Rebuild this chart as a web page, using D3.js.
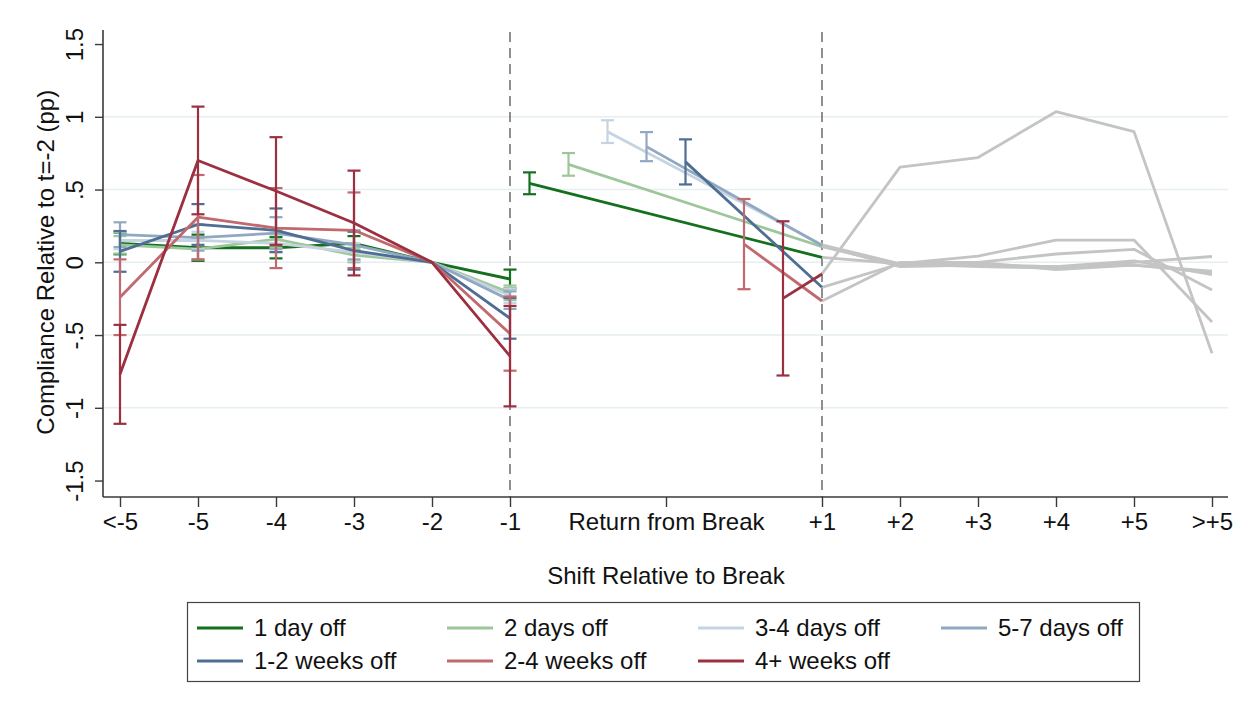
<!DOCTYPE html>
<html>
<head>
<meta charset="utf-8">
<script src="https://cdn.jsdelivr.net/npm/d3@7"></script>
<style>
  html, body { margin: 0; padding: 0; background: #fff; }
  svg { display: block; font-family: "Liberation Sans", Arial, Helvetica, sans-serif; }
</style>
</head>
<body>
<script>
// Axis categories and their positions on the shift axis
const categories = ["<-5", "-5", "-4", "-3", "-2", "-1", "Return from Break", "+1", "+2", "+3", "+4", "+5", ">+5"];
const categoryPos = [0, 1, 2, 3, 4, 5, 7, 9, 10, 11, 12, 13, 14];
const yTicks = [-1.5, -1, -0.5, 0, 0.5, 1, 1.5];
const yTickLabels = ["-1.5", "-1", "-.5", "0", ".5", "1", "1.5"];

// Break-length groups
const seriesNames = ["1 day off", "2 days off", "3-4 days off", "5-7 days off", "1-2 weeks off", "2-4 weeks off", "4+ weeks off"];
const seriesColors = ["#13701c", "#9dc79b", "#c6d3e0", "#91a8c1", "#4e6e93", "#c0696e", "#9c3040"];

// Shifts before the break: <-5, -5, -4, -3, -2, -1 (relative to t=-2)
const preMean = [
  [0.13, 0.10, 0.10, 0.13, 0, -0.115],
  [0.12, 0.09, 0.16, 0.05, 0, -0.21],
  [0.15, 0.15, 0.13, 0.07, 0, -0.23],
  [0.19, 0.17, 0.20, 0.12, 0, -0.26],
  [0.075, 0.26, 0.22, 0.08, 0, -0.385],
  [-0.24, 0.31, 0.235, 0.22, 0, -0.49],
  [-0.77, 0.70, 0.49, 0.27, 0, -0.645]
];
// Half-width of the 95% interval for each pre-break shift (none at t=-2)
const preHalf = [
  [0.075, 0.09, 0.073, 0.05, null, 0.065],
  [0.06, 0.07, 0.06, 0.05, null, 0.05],
  [0.06, 0.06, 0.06, 0.06, null, 0.05],
  [0.085, 0.09, 0.11, 0.10, null, 0.06],
  [0.14, 0.14, 0.15, 0.13, null, 0.14],
  [0.26, 0.29, 0.275, 0.26, null, 0.255],
  [0.34, 0.37, 0.37, 0.36, null, 0.345]
];

// First shift back from the break
const returnPos = [5.25, 5.75, 6.25, 6.75, 7.25, 8.0, 8.5];
const returnMean = [0.543, 0.673, 0.898, 0.795, 0.69, 0.125, -0.248];
const returnHalf = [0.075, 0.078, 0.078, 0.10, 0.155, 0.31, 0.53];

// Shifts after the return: +1, +2, +3, +4, +5, >+5
const postPos = [9, 10, 11, 12, 13, 14];
const postMean = [
  [0.034, -0.01, -0.02, -0.03, -0.02, -0.06],
  [0.107, -0.02, 0.00, -0.05, -0.02, -0.07],
  [0.12, -0.01, -0.03, -0.04, 0.00, 0.04],
  [0.115, -0.03, -0.02, -0.03, 0.01, -0.085],
  [-0.172, -0.01, 0.043, 0.153, 0.153, -0.41],
  [-0.266, 0.00, 0.00, 0.057, 0.089, -0.19],
  [-0.08, 0.654, 0.72, 1.035, 0.898, -0.625]
];
const laterColor = "#c4c4c4";

const W = 1251, H = 714;
const FS = 24;
const svg = d3.select("body").append("svg").attr("width", W).attr("height", H);

const x = d3.scaleLinear().domain([0, 14]).range([120, 1212]);
const y = d3.scaleLinear().domain([-1.5, 1.5]).range([480.55, 44.05]);

const plotLeft = 103, plotRight = 1228, axisY = 497, plotTop = 30;

// Horizontal grid
svg.append("g")
  .selectAll("line")
  .data([-1, -0.5, 0, 0.5, 1])
  .join("line")
  .attr("x1", plotLeft).attr("x2", plotRight)
  .attr("y1", d => y(d)).attr("y2", d => y(d))
  .attr("stroke", "#e5eef1").attr("stroke-width", 1.6);

// Break boundaries
svg.append("g")
  .selectAll("line")
  .data([5, 9])
  .join("line")
  .attr("x1", d => x(d)).attr("x2", d => x(d))
  .attr("y1", plotTop + 2).attr("y2", axisY)
  .attr("stroke", "#7c7c7c").attr("stroke-width", 1.7)
  .attr("stroke-dasharray", "10,6");

const line = d3.line().x(d => x(d.x)).y(d => y(d.v));

// Later shifts in gray
const later = svg.append("g");
postMean.forEach(vals => {
  later.append("path")
    .attr("d", line(vals.map((v, i) => ({ x: postPos[i], v }))))
    .attr("fill", "none").attr("stroke", laterColor).attr("stroke-width", 2.8)
    .attr("stroke-linejoin", "round");
});

// Error bar helper
function errorBar(g, xv, m, h, color) {
  const lo = y(m - h), hi = y(m + h), cx = x(xv), cap = 6.5;
  g.append("line").attr("x1", cx).attr("x2", cx).attr("y1", lo).attr("y2", hi)
    .attr("stroke", color).attr("stroke-width", 2.2);
  [lo, hi].forEach(yy => g.append("line")
    .attr("x1", cx - cap).attr("x2", cx + cap).attr("y1", yy).attr("y2", yy)
    .attr("stroke", color).attr("stroke-width", 2.2));
}

const groups = svg.append("g");
seriesNames.forEach((name, s) => {
  const c = seriesColors[s];
  const g = groups.append("g");
  // before the break
  g.append("path")
    .attr("d", line(preMean[s].map((v, i) => ({ x: i, v }))))
    .attr("fill", "none").attr("stroke", c).attr("stroke-width", 2.8)
    .attr("stroke-linejoin", "round");
  preMean[s].forEach((v, i) => {
    if (preHalf[s][i] != null) errorBar(g, i, v, preHalf[s][i], c);
  });
  // return from break to +1
  g.append("path")
    .attr("d", line([{ x: returnPos[s], v: returnMean[s] }, { x: postPos[0], v: postMean[s][0] }]))
    .attr("fill", "none").attr("stroke", c).attr("stroke-width", 2.8);
  errorBar(g, returnPos[s], returnMean[s], returnHalf[s], c);
});

// Axes
const axisColor = "#3a3a3a";
svg.append("line").attr("x1", plotLeft).attr("x2", plotLeft).attr("y1", plotTop).attr("y2", axisY)
  .attr("stroke", axisColor).attr("stroke-width", 1.6);
svg.append("line").attr("x1", plotLeft).attr("x2", plotRight).attr("y1", axisY).attr("y2", axisY)
  .attr("stroke", axisColor).attr("stroke-width", 1.6);

const yAxis = svg.append("g").attr("transform", `translate(${plotLeft},0)`)
  .call(d3.axisLeft(y).tickValues(yTicks).tickSize(8).tickFormat((d, i) => yTickLabels[i]));
yAxis.select(".domain").remove();
yAxis.selectAll(".tick line").attr("stroke", axisColor).attr("stroke-width", 1.4);
yAxis.selectAll(".tick text")
  .attr("font-size", FS).attr("fill", "#111")
  .attr("x", null).attr("dy", null)
  .attr("text-anchor", "middle")
  .attr("transform", "translate(-20,0) rotate(-90)")
  .attr("y", 0);

const xAxis = svg.append("g").attr("transform", `translate(0,${axisY})`)
  .call(d3.axisBottom(x).tickValues(categoryPos).tickSize(10).tickFormat((d, i) => categories[i]));
xAxis.select(".domain").remove();
xAxis.selectAll(".tick line").attr("stroke", axisColor).attr("stroke-width", 1.4);
xAxis.selectAll(".tick text").attr("font-size", FS).attr("fill", "#111").attr("y", 16);

// Axis titles
svg.append("text").attr("x", 666).attr("y", 584).attr("text-anchor", "middle")
  .attr("font-size", FS).attr("fill", "#111").text("Shift Relative to Break");
svg.append("text").attr("transform", `translate(54,${y(0)}) rotate(-90)`)
  .attr("text-anchor", "middle").attr("font-size", FS).attr("fill", "#111")
  .text("Compliance Relative to t=-2 (pp)");

// Legend
const legend = svg.append("g");
legend.append("rect").attr("x", 187.5).attr("y", 602.5).attr("width", 952).attr("height", 79)
  .attr("fill", "#fff").attr("stroke", "#444").attr("stroke-width", 1.2);
const colX = [197, 447, 698, 941];
const rowY = [628, 661];
seriesNames.forEach((name, s) => {
  const cx = colX[s % 4], cy = rowY[Math.floor(s / 4)];
  legend.append("line").attr("x1", cx).attr("x2", cx + 46).attr("y1", cy).attr("y2", cy)
    .attr("stroke", seriesColors[s]).attr("stroke-width", 2.8);
  legend.append("text").attr("x", cx + 57).attr("y", cy).attr("dy", "0.35em")
    .attr("font-size", FS).attr("fill", "#111").text(name);
});
</script>
</body>
</html>
